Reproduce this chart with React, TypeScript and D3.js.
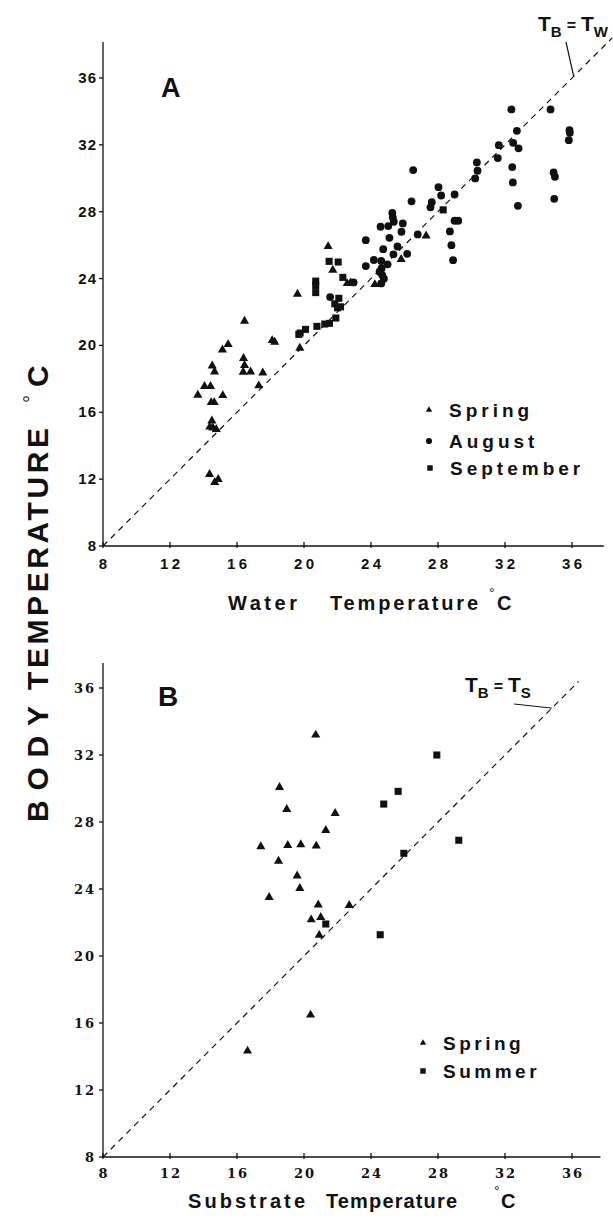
import React from "react";
import * as d3 from "d3";

const W = 613;
const H = 1220;

const TICKS = [8, 12, 16, 20, 24, 28, 32, 36];

// Panel A: body temperature vs water temperature (°C)
const springA: [number, number][] = [
  [16.45, 21.46], [18.1, 20.3], [18.25, 20.2], [15.47, 20.06], [15.13, 19.74],
  [16.39, 19.23], [14.52, 18.78], [16.45, 18.81], [14.66, 18.42], [16.37, 18.41],
  [16.81, 18.42], [17.54, 18.36], [17.3, 17.59], [14.06, 17.55], [14.42, 17.55],
  [13.66, 17.03], [15.15, 17.01], [14.46, 16.59], [14.64, 16.59], [14.5, 15.49],
  [14.38, 15.13], [14.56, 15.07], [14.76, 14.98], [14.36, 12.29], [14.67, 11.81],
  [14.88, 11.99], [21.44, 25.92], [21.72, 24.51], [22.58, 23.71], [22.78, 23.75],
  [19.61, 23.07], [19.75, 19.84], [24.23, 23.65], [25.8, 25.15], [27.29, 26.56],
];

const augustA: [number, number][] = [
  [22.96, 23.77], [21.56, 22.89],
  [25.27, 27.93], [25.3, 27.66], [25.36, 27.4], [24.57, 27.1], [25.03, 27.14],
  [25.9, 27.3], [25.82, 26.8], [25.1, 26.44], [23.69, 26.3], [25.58, 25.92],
  [24.73, 25.76], [25.34, 25.45], [26.16, 25.48], [24.17, 25.11], [24.61, 25.05],
  [24.99, 24.85], [23.69, 24.75], [24.63, 24.61], [24.51, 24.41], [24.67, 24.21],
  [24.77, 23.99], [24.61, 23.71],
  [32.38, 34.12], [34.72, 34.12], [35.85, 32.88], [35.87, 32.72], [35.81, 32.28],
  [32.71, 32.84], [31.63, 31.98], [32.49, 32.12], [32.81, 31.79], [30.32, 30.95],
  [30.36, 30.45], [30.22, 29.99], [31.57, 31.21], [32.43, 30.67], [32.47, 29.75],
  [32.77, 28.35], [34.9, 30.35], [34.98, 30.09], [34.94, 28.77], [26.52, 30.49],
  [28.03, 29.47], [28.19, 28.97], [28.99, 29.03], [26.42, 28.62], [27.63, 28.57],
  [27.55, 28.26], [28.99, 27.46], [29.21, 27.46], [28.71, 26.82], [26.79, 26.64],
  [28.8, 26.0], [28.9, 25.1],
];

const septemberA: [number, number][] = [
  [21.5, 25.03], [22.04, 24.99], [22.32, 24.07], [20.7, 23.85], [20.7, 23.58],
  [20.7, 23.16], [22.08, 22.82], [21.84, 22.49], [22.18, 22.31], [22.0, 22.25],
  [21.9, 21.64], [21.52, 21.32], [21.24, 21.28], [20.77, 21.14], [20.09, 20.96],
  [19.77, 20.74], [19.69, 20.66], [28.31, 28.11],
];

// Panel B: body temperature vs substrate temperature (°C)
const springB: [number, number][] = [
  [20.7, 33.2], [18.54, 30.07], [18.97, 28.76], [21.86, 28.52], [21.3, 27.5],
  [17.42, 26.53], [19.03, 26.61], [19.81, 26.65], [20.73, 26.57], [18.48, 25.67],
  [19.59, 24.79], [19.75, 24.04], [17.92, 23.5], [20.85, 23.06], [22.7, 23.03],
  [21.0, 22.31], [20.43, 22.17], [20.91, 21.24], [20.39, 16.48], [16.63, 14.33],
];

const summerB: [number, number][] = [
  [27.93, 32.0], [25.62, 29.83], [24.76, 29.07], [29.24, 26.91], [25.96, 26.13],
  [21.3, 21.91], [24.55, 21.27],
];

const SANS = "'Liberation Sans', Arial, Helvetica, sans-serif";
const SERIF = "'DejaVu Serif', 'Liberation Serif', serif";
const INK = "#111";

const xA = d3.scaleLinear().domain([8, 36]).range([103, 572]);
const yA = d3.scaleLinear().domain([8, 36]).range([546, 78]);
const xB = d3.scaleLinear().domain([8, 36]).range([103, 572]);
const yB = d3.scaleLinear().domain([8, 36]).range([1157, 688]);

type Kind = "triangle" | "circle" | "square";

const symbolPath = (kind: Kind, size: number) =>
  d3
    .symbol()
    .type(kind === "triangle" ? d3.symbolTriangle : kind === "circle" ? d3.symbolCircle : d3.symbolSquare)
    .size(size)() as string;

const SIZES: Record<Kind, number> = { triangle: 36, circle: 48, square: 50 };
const LEGEND_SIZES: Record<Kind, number> = { triangle: 18, circle: 30, square: 30 };

function Points({ data, kind, x, y }: { data: [number, number][]; kind: Kind; x: any; y: any }) {
  const p = symbolPath(kind, SIZES[kind]);
  return (
    <g fill={INK}>
      {data.map((d, i) => (
        <path key={i} d={p} transform={`translate(${x(d[0])},${y(d[1])})`} />
      ))}
    </g>
  );
}

function Axes({
  x, y, xEnd, yEnd, tickFamily, tickSize, xSpacing, ySpacing, xLabelDy,
}: {
  x: any; y: any; xEnd: number; yEnd: number; tickFamily: string; tickSize: number;
  xSpacing: number; ySpacing: number; xLabelDy: number;
}) {
  const x0 = x(8);
  const y0 = y(8);
  return (
    <g>
      <line x1={x0} y1={y0} x2={x(xEnd)} y2={y0} stroke={INK} strokeWidth={1.3} />
      <line x1={x0} y1={y0} x2={x0} y2={y(yEnd)} stroke={INK} strokeWidth={1.3} />
      {TICKS.map((t) => (
        <g key={"x" + t}>
          <line x1={x(t)} x2={x(t)} y1={y0 - 4} y2={y0 + 2} stroke={INK} strokeWidth={1.3} />
          <text
            x={x(t) + xSpacing / 2}
            y={y0 + xLabelDy}
            textAnchor="middle"
            fontFamily={tickFamily}
            fontWeight="bold"
            fontSize={tickSize}
            letterSpacing={xSpacing}
            fill={INK}
          >
            {t}
          </text>
        </g>
      ))}
      {TICKS.map((t) => (
        <g key={"y" + t}>
          <line x1={x0 - 4} x2={x0} y1={y(t)} y2={y(t)} stroke={INK} strokeWidth={1.3} />
          <text
            x={x0 - 5 - ySpacing}
            y={y(t) + 5}
            textAnchor="end"
            fontFamily={tickFamily}
            fontWeight="bold"
            fontSize={tickSize}
            letterSpacing={ySpacing}
            fill={INK}
          >
            {t}
          </text>
        </g>
      ))}
    </g>
  );
}

function Identity({ x, y, end }: { x: any; y: any; end: number }) {
  const line = d3.line<number>().x((v) => x(v)).y((v) => y(v));
  return <path d={line([8, end]) as string} fill="none" stroke={INK} strokeWidth={1.2} strokeDasharray="6 5" />;
}

function LegendRow({ kind, x, y, label, spacing }: { kind: Kind; x: number; y: number; label: string; spacing: number }) {
  return (
    <g>
      <path d={symbolPath(kind, LEGEND_SIZES[kind])} transform={`translate(${x},${y})`} fill={INK} />
      <text x={x + 20} y={y + 7} fontFamily={SANS} fontWeight="bold" fontSize={19} letterSpacing={spacing} fill={INK}>
        {label}
      </text>
    </g>
  );
}

function Equality({ x, y, sub }: { x: number; y: number; sub: string }) {
  return (
    <text x={x} y={y} fontFamily={SANS} fontWeight="bold" fontSize={21} fill={INK}>
      <tspan>T</tspan>
      <tspan fontSize={15} dy={6}>B</tspan>
      <tspan dy={-6} fontSize={16} dx={5}>=</tspan>
      <tspan dx={5}>T</tspan>
      <tspan fontSize={15} dy={6}>{sub}</tspan>
    </text>
  );
}

function AxisTitle({ parts, y }: { parts: { text: string; x0: number; x1: number }[]; y: number }) {
  return (
    <g>
      {parts.map((p, i) => (
        <text
          key={i}
          x={p.x0}
          y={y}
          textLength={p.x1 - p.x0}
          lengthAdjust="spacing"
          fontFamily={SANS}
          fontWeight="bold"
          fontSize={20}
          fill={INK}
        >
          {p.text}
        </text>
      ))}
    </g>
  );
}

export default function App() {
  return (
    <svg
      width={W}
      height={H}
      viewBox={`0 0 ${W} ${H}`}
      style={{ position: "absolute", left: 0, top: 0, background: "#fff", display: "block" }}
    >
      <rect width={W} height={H} fill="#fff" />

      {/* Shared y-axis title */}
      <g fontFamily={SANS} fontWeight="bold" fill={INK}>
        <text transform="translate(48,822) rotate(-90)" fontSize={30} textLength={116} lengthAdjust="spacing">
          BODY
        </text>
        <text transform="translate(48,690) rotate(-90)" fontSize={30} textLength={262} lengthAdjust="spacing">
          TEMPERATURE
        </text>
        <text transform="translate(48,387) rotate(-90)" fontSize={30}>C</text>
        <text transform="translate(38,403) rotate(-90)" fontSize={20} fontWeight="normal">°</text>
      </g>

      {/* Panel A */}
      <Axes x={xA} y={yA} xEnd={37.9} yEnd={38.15} tickFamily={SANS} tickSize={15} xSpacing={3.5} ySpacing={1} xLabelDy={23} />
      <Identity x={xA} y={yA} end={38.4} />
      <line x1={566} y1={42} x2={xA(36.1)} y2={yA(36.1)} stroke={INK} strokeWidth={1.2} />
      <Equality x={538} y={31} sub="W" />
      <text x={161} y={97} fontFamily={SANS} fontWeight="bold" fontSize={27} fill={INK}>A</text>
      <Points data={springA} kind="triangle" x={xA} y={yA} />
      <Points data={augustA} kind="circle" x={xA} y={yA} />
      <Points data={septemberA} kind="square" x={xA} y={yA} />
      <LegendRow kind="triangle" x={429} y={410} label="Spring" spacing={4} />
      <LegendRow kind="circle" x={429} y={441} label="August" spacing={4} />
      <LegendRow kind="square" x={430} y={468} label="September" spacing={4} />
      <AxisTitle
        y={610}
        parts={[
          { text: "Water", x0: 228, x1: 297 },
          { text: "Temperature", x0: 330, x1: 478 },
          { text: "C", x0: 497, x1: 514 },
        ]}
      />
      <text x={489} y={598} fontFamily={SANS} fontSize={14} fill={INK}>°</text>

      {/* Panel B */}
      <Axes x={xB} y={yB} xEnd={37.7} yEnd={37.5} tickFamily={SERIF} tickSize={13} xSpacing={2} ySpacing={2} xLabelDy={21} />
      <Identity x={xB} y={yB} end={36.4} />
      <line x1={514} y1={704} x2={xB(34.8)} y2={yB(34.8)} stroke={INK} strokeWidth={1} />
      <Equality x={465} y={692} sub="S" />
      <text x={158} y={706} fontFamily={SANS} fontWeight="bold" fontSize={28} fill={INK}>B</text>
      <Points data={springB} kind="triangle" x={xB} y={yB} />
      <Points data={summerB} kind="square" x={xB} y={yB} />
      <LegendRow kind="triangle" x={423} y={1043} label="Spring" spacing={3.5} />
      <LegendRow kind="square" x={423} y={1071} label="Summer" spacing={3.5} />
      <AxisTitle
        y={1208}
        parts={[
          { text: "Substrate", x0: 188, x1: 305 },
          { text: "Temperature", x0: 326, x1: 457 },
          { text: "C", x0: 501, x1: 519 },
        ]}
      />
      <text x={494} y={1196} fontFamily={SANS} fontSize={14} fill={INK}>°</text>
    </svg>
  );
}
